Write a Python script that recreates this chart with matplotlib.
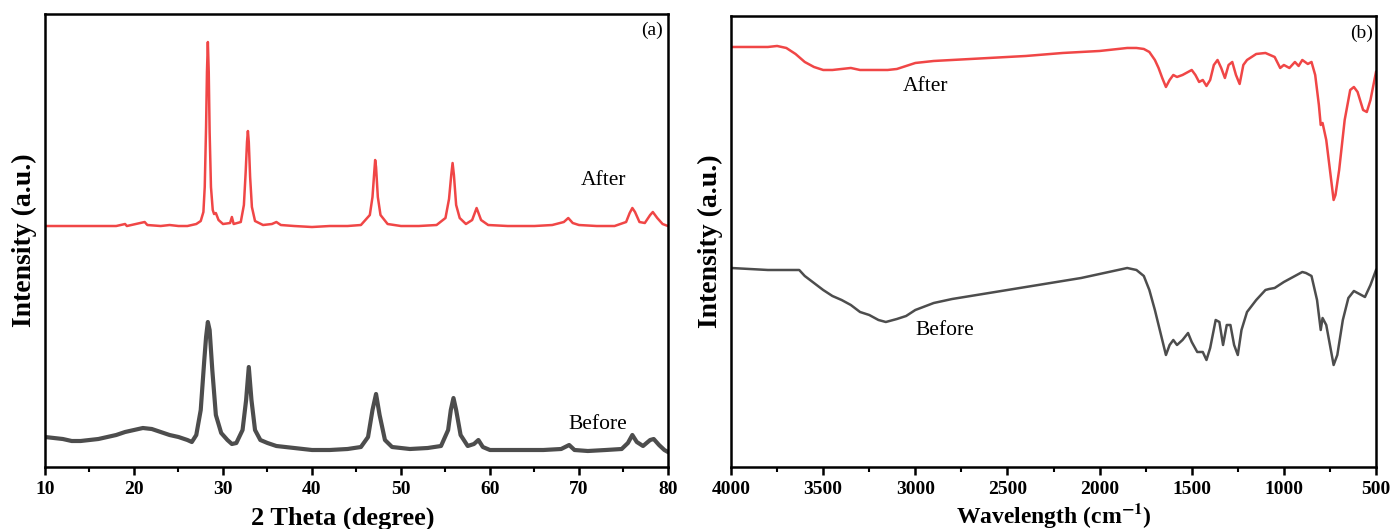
import matplotlib
matplotlib.use('Agg')
import matplotlib.pyplot as plt
from matplotlib.ticker import MultipleLocator

############################################################
# Datos XRD (a)  -> altura en unidades arbitrarias
############################################################

xrd_after_x = [
    10, 12, 15, 18, 19, 19.2, 21.2, 21.5, 23, 24, 25, 26, 27, 27.5,
    27.8, 27.95, 28.1, 28.2, 28.3, 28.4, 28.5, 28.65, 28.85, 29, 29.2,
    29.5, 30, 30.8, 31, 31.2, 32, 32.35, 32.55, 32.7, 32.8, 32.9, 33.05,
    33.25, 33.6, 34.5, 35.5, 36, 36.5, 38, 40, 42, 44, 45.5, 46.5, 46.8,
    47.0, 47.1, 47.2, 47.4, 47.7, 48.5, 50, 52, 54, 55, 55.4, 55.65,
    55.8, 55.95, 56.2, 56.6, 57.3, 58, 58.5, 59, 59.8, 62, 65, 67, 68.3,
    68.8, 69.3, 70, 72, 74, 75.3, 75.7, 76, 76.3, 76.8, 77.4, 78, 78.3,
    78.8, 79.4, 80
]

xrd_after_y = [
    241, 241, 241, 241, 243, 241, 245, 242, 241, 242, 241, 241, 243, 246,
    255, 280, 340, 395, 425, 395, 335, 280, 257, 253, 254,
    247, 243, 244, 250, 243, 245, 262, 295, 325, 336, 325, 290,
    260, 246, 242, 243, 245, 242, 241, 240, 241, 241, 242, 252, 270,
    295, 307, 300, 270, 252, 243, 241, 241, 242, 249, 268, 292,
    304, 292, 262, 249, 243, 247, 259, 247, 242, 241, 241, 242, 245,
    249, 244, 242, 241, 241, 245, 254, 259, 255, 245, 244, 252, 255,
    249, 243, 241
]

xrd_before_x = [
    10, 11, 12, 13, 14, 15, 16, 17, 18, 19, 20, 21, 22, 23, 24, 25, 26,
    26.5, 27, 27.5, 27.9, 28.1, 28.3, 28.5, 28.8, 29.2, 29.8, 30.5, 31,
    31.5, 32.2, 32.6, 32.9, 33.2, 33.6, 34.2, 35, 36, 38, 40, 42, 44,
    45.5, 46.3, 46.8, 47.2, 47.6, 48.2, 49, 51, 53, 54.5, 55.3, 55.6,
    55.9, 56.2, 56.7, 57.5, 58.2, 58.7, 59.2, 60, 62, 64, 66, 68, 68.9,
    69.5, 71, 73, 74.8, 75.5, 76, 76.5, 77.2, 78, 78.4, 79, 79.6, 80
]

xrd_before_y = [
    30, 29, 28, 26, 26, 27, 28, 30, 32, 35, 37, 39, 38, 35, 32, 30, 27,
    25, 32, 57, 107, 130, 145, 137, 97, 52, 34, 27, 23,
    24, 37, 67, 100, 67, 37, 27, 24, 21, 19, 17, 17, 18,
    20, 30, 57, 73, 52, 27, 20, 18, 19, 21, 37, 57,
    69, 57, 32, 21, 23, 27, 20, 17, 17, 17, 17, 18, 22,
    17, 16, 17, 18, 24, 32, 25, 21, 27, 28, 22, 17, 15
]

############################################################
# Datos FTIR (b)
############################################################

ftir_after_x = [
    4000, 3900, 3800, 3750, 3700, 3650, 3600, 3550, 3500, 3450, 3400,
    3350, 3300, 3250, 3200, 3150, 3100, 3050, 3000, 2900, 2800, 2600,
    2400, 2200, 2000, 1900, 1850, 1800, 1760, 1730, 1700, 1680, 1660,
    1640, 1620, 1600, 1580, 1550, 1520, 1500, 1480, 1460, 1440, 1420,
    1400, 1380, 1360, 1340, 1320, 1300, 1280, 1260, 1240, 1220, 1200,
    1150, 1100, 1050, 1020, 1000, 970, 940, 920, 900, 870, 850, 830,
    810, 800, 790, 770, 750, 730, 720, 700, 670, 640, 620, 600, 570,
    550, 530, 500
]

ftir_after_y = [
    420, 420, 420, 421, 419, 413, 405, 400, 397, 397, 398,
    399, 397, 397, 397, 397, 398, 401, 404, 406, 407, 409,
    411, 414, 416, 418, 419, 419, 418, 415, 407, 399, 389,
    380, 387, 392, 390, 392, 395, 397, 392, 385, 387, 381,
    387, 402, 407, 399, 389, 402, 405, 392, 383, 402, 407,
    413, 414, 410, 399, 402, 399, 405, 401, 407, 403, 405, 392,
    362, 342, 344, 327, 297, 267, 272, 297, 347, 377, 380, 375, 357,
    355, 367, 395
]

ftir_before_x = [
    4000, 3900, 3800, 3700, 3630, 3600, 3550, 3500, 3450, 3400, 3350,
    3300, 3250, 3200, 3160, 3100, 3050, 3000, 2900, 2800, 2700, 2600,
    2500, 2400, 2300, 2200, 2100, 2000, 1900, 1850, 1800, 1760, 1730,
    1700, 1680, 1660, 1640, 1620, 1600, 1580, 1550, 1520, 1500, 1470,
    1440, 1420, 1400, 1370, 1350, 1330, 1310, 1290, 1270, 1250, 1230,
    1200, 1150, 1100, 1080, 1050, 1000, 950, 900, 880, 850, 820, 800,
    790, 770, 750, 730, 710, 680, 650, 620, 580, 560, 530, 500
]

ftir_before_y = [
    199, 198, 197, 197, 197, 191, 184, 177, 171, 167, 162,
    155, 152, 147, 145, 148, 151, 157, 164, 168, 171, 174,
    177, 180, 183, 186, 189, 193, 197, 199, 197, 191, 177,
    157, 142, 127, 112, 122, 127, 122, 127, 134, 125, 115,
    115, 107, 119, 147, 145, 122, 142, 142, 122, 112, 137,
    155, 167, 177, 178, 179, 185, 190, 195, 194, 191, 167, 137,
    149, 142, 122, 102, 112, 147, 169, 176, 172, 170, 182, 197
]

############################################################
# Estilo
############################################################

plt.rcParams['font.family'] = ['Liberation Serif', 'DejaVu Serif']
plt.rcParams['mathtext.fontset'] = 'stix'

rojo = '#f04646'
gris = '#4d4d4d'

fig = plt.figure(figsize=(13.93, 5.29), dpi=100)

ax1 = fig.add_axes([0.0323, 0.1172, 0.4472, 0.8563])
ax2 = fig.add_axes([0.5248, 0.1172, 0.4630, 0.8526])

############################################################
# (a) XRD
############################################################

ax1.plot(xrd_after_x, xrd_after_y, color=rojo, lw=1.8)
ax1.plot(xrd_before_x, xrd_before_y, color=gris, lw=3.0)

ax1.set_xlim(10, 80)
ax1.set_ylim(0, 453)
ax1.xaxis.set_major_locator(MultipleLocator(10))
ax1.xaxis.set_minor_locator(MultipleLocator(5))

ax1.set_xlabel('2 Theta (degree)', fontsize=19, fontweight='bold')
ax1.xaxis.set_label_coords(0.478, -0.088)
ax1.set_ylabel('Intensity (a.u.)', fontsize=20, fontweight='bold', labelpad=6)

ax1.text(0.975, 0.965, '(a)', transform=ax1.transAxes, fontsize=14,
         ha='center', va='center')
ax1.text(72.8, 287, 'After', fontsize=15.5, ha='center', va='center')
ax1.text(72.1, 43, 'Before', fontsize=15.5, ha='center', va='center')

############################################################
# (b) FTIR
############################################################

ax2.plot(ftir_after_x, ftir_after_y, color=rojo, lw=1.8)
ax2.plot(ftir_before_x, ftir_before_y, color=gris, lw=1.8)

ax2.set_xlim(4000, 500)
ax2.set_ylim(0, 451)
ax2.xaxis.set_major_locator(MultipleLocator(500))
ax2.xaxis.set_minor_locator(MultipleLocator(250))

ax2.set_xlabel(r'Wavelength (cm$^{\mathbf{-1}}$)', fontsize=17,
               fontweight='bold', labelpad=2)
ax2.set_ylabel('Intensity (a.u.)', fontsize=20, fontweight='bold', labelpad=6)

ax2.text(0.978, 0.962, '(b)', transform=ax2.transAxes, fontsize=14,
         ha='center', va='center')
ax2.text(2947, 380, 'After', fontsize=15.5, ha='center', va='center')
ax2.text(2839, 136, 'Before', fontsize=15.5, ha='center', va='center')

############################################################
# Ejes
############################################################

for ax in (ax1, ax2):
    ax.set_yticks([])
    for s in ax.spines.values():
        s.set_linewidth(1.8)
    ax.tick_params(axis='x', which='major', direction='out', length=6,
                   width=1.8, labelsize=14, pad=4)
    ax.tick_params(axis='x', which='minor', direction='out', length=3.5,
                   width=1.5)
    for lab in ax.get_xticklabels():
        lab.set_fontweight('bold')

fig.savefig('out.png', dpi=100)
